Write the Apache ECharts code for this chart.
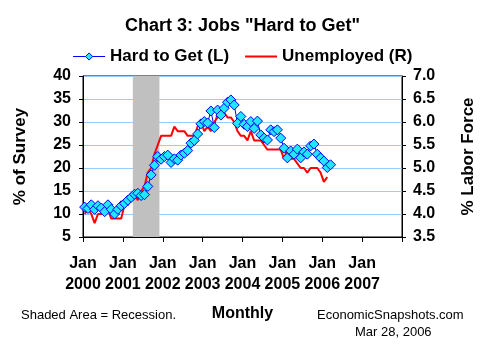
<!DOCTYPE html>
<html><head><meta charset="utf-8">
<script src="https://cdn.jsdelivr.net/npm/echarts@6/dist/echarts.min.js"></script>
<style>html,body{margin:0;padding:0;background:#fff}#c{width:485px;height:350px}</style>
</head><body><div id="c"></div>
<script>
// Monthly data, Jan 2000 .. Mar 2006 (index 0 = Jan 2000)
const hardToGet = [
 11.5, 11.2, 12.0, 11.0, 11.8, 11.3, 10.5, 12.0, 11.0, 10.0, 11.0, 11.8,
 12.3, 13.0, 13.6, 14.3, 14.5, 14.0, 14.2, 16.0, 18.5, 20.6, 22.5, 21.9,
 22.5, 22.8, 21.2, 22.0, 21.7, 22.8, 23.2, 23.8, 25.4, 26.0, 27.4, 29.6,
 30.1, 29.8, 32.4, 28.8, 32.6, 31.5, 33.0, 34.3, 34.8, 33.7, 29.7, 31.2,
 29.5, 29.0, 30.1, 28.6, 30.2, 27.2, 26.5, 26.1, 28.3, 27.9, 28.3, 26.5,
 24.3, 22.2, 23.7, 23.0, 24.1, 22.2, 23.5, 23.0, 24.8, 25.2, 23.0, 22.2,
 21.5, 20.1, 20.7
];
const unemployed = [
 4.0, 4.1, 4.0, 3.8, 4.0, 4.0, 4.0, 4.1, 3.9, 3.9, 3.9, 3.9,
 4.2, 4.2, 4.3, 4.4, 4.3, 4.5, 4.6, 4.9, 5.0, 5.3, 5.5, 5.7,
 5.7, 5.7, 5.7, 5.9, 5.8, 5.8, 5.8, 5.7, 5.7, 5.7, 5.9, 6.0,
 5.8, 5.9, 5.8, 6.0, 6.1, 6.3, 6.2, 6.1, 6.1, 6.0, 5.8, 5.7,
 5.7, 5.6, 5.8, 5.6, 5.6, 5.6, 5.5, 5.4, 5.4, 5.4, 5.4, 5.4,
 5.2, 5.4, 5.2, 5.2, 5.1, 5.0, 5.0, 4.9, 5.0, 5.0, 5.0, 4.9,
 4.7, 4.8
];
const years = ['2000','2001','2002','2003','2004','2005','2006','2007'];
const recession = [15, 23]; // month index: Apr 2001 .. Nov 2001 (end edge)
const leftTicks = {min: 5, max: 40, interval: 5};
const rightTicks = {min: 3.5, max: 7.0, interval: 0.5};

const FONT = 'Liberation Sans, Arial, sans-serif';
const chart = echarts.init(document.getElementById('c'), null, {renderer: 'canvas'});
const htgPts = hardToGet.map((v, i) => [i + 0.5, v]);
const unPts = unemployed.map((v, i) => [i + 0.5, v]);

chart.setOption({
  animation: false,
  textStyle: {fontFamily: FONT},
  title: [
    {text: 'Chart 3: Jobs "Hard to Get"', left: 'center', top: 12,
     textStyle: {fontFamily: FONT, fontSize: 18, fontWeight: 'bold', color: '#000'}},
    {text: 'Shaded Area = Recession.', left: 16, top: 304,
     textStyle: {fontFamily: FONT, fontSize: 13, fontWeight: 'normal', color: '#000'}},
    {text: 'Monthly', left: 'center', top: 301,
     textStyle: {fontFamily: FONT, fontSize: 16, fontWeight: 'bold', color: '#000'}},
    {text: 'EconomicSnapshots.com', left: 312, top: 304,
     textStyle: {fontFamily: FONT, fontSize: 13, fontWeight: 'normal', color: '#000'}},
    {text: 'Mar 28, 2006', left: 350, top: 321,
     textStyle: {fontFamily: FONT, fontSize: 13, fontWeight: 'normal', color: '#000'}}
  ],
  legend: {
    top: 43, left: 'center', itemGap: 15, itemWidth: 32, itemHeight: 9,
    textStyle: {fontFamily: FONT, fontSize: 17, fontWeight: 'bold', color: '#000'},
    data: [
      {name: 'Hard to Get (L)', lineStyle: {width: 1, color: '#0000ff'},
       itemStyle: {color: '#22e6ff', borderColor: '#0000ff', borderWidth: 1}},
      {name: 'Unemployed (R)', lineStyle: {width: 2, color: '#ff0000'}, itemStyle: {opacity: 0}}
    ]
  },
  grid: {left: 83, right: 82, top: 76, bottom: 113, show: true,
         borderColor: '#000', borderWidth: 1, backgroundColor: 'transparent'},
  xAxis: {
    type: 'value', min: 0, max: 96, interval: 12,
    axisLine: {lineStyle: {color: '#000', width: 1}},
    axisTick: {show: true, length: 5, lineStyle: {color: '#000'}},
    splitLine: {show: false},
    axisLabel: {
      margin: 16, lineHeight: 21, color: '#000',
      fontFamily: FONT, fontSize: 16, fontWeight: 'bold',
      formatter: v => { const k = Math.round(v / 12); return k < years.length ? 'Jan\n' + years[k] : ''; }
    }
  },
  yAxis: [
    {type: 'value', position: 'left', min: leftTicks.min, max: leftTicks.max, interval: leftTicks.interval,
     name: '% of Survey', nameLocation: 'middle', nameRotate: 90, nameGap: 54,
     nameTextStyle: {fontFamily: FONT, fontSize: 17, fontWeight: 'bold', color: '#000'},
     axisLine: {show: true, lineStyle: {color: '#000'}},
     axisTick: {show: true, length: 4, lineStyle: {color: '#000'}},
     splitLine: {show: true, lineStyle: {color: '#99ccff', width: 1}},
     axisLabel: {margin: 12, color: '#000', fontFamily: FONT, fontSize: 16, fontWeight: 'bold'}},
    {type: 'value', position: 'right', min: rightTicks.min, max: rightTicks.max, interval: rightTicks.interval,
     name: '% Labor Force', nameLocation: 'middle', nameRotate: 90, nameGap: 58,
     nameTextStyle: {fontFamily: FONT, fontSize: 17, fontWeight: 'bold', color: '#000'},
     axisLine: {show: true, lineStyle: {color: '#000'}},
     axisTick: {show: true, length: 4, lineStyle: {color: '#000'}},
     splitLine: {show: false},
     axisLabel: {margin: 11, color: '#000', fontFamily: FONT, fontSize: 16, fontWeight: 'bold',
       formatter: v => v.toFixed(1)}}
  ],
  series: [
    {name: 'Hard to Get (L)', type: 'line', yAxisIndex: 0, data: htgPts,
     symbol: 'diamond', symbolSize: 10, showAllSymbol: true,
     lineStyle: {color: '#0000ff', width: 1},
     itemStyle: {color: '#22e6ff', borderColor: '#0000ff', borderWidth: 1},
     markArea: {silent: true, itemStyle: {color: '#c0c0c0', opacity: 1},
       data: [[{xAxis: recession[0]}, {xAxis: recession[1]}]]}},
    {name: 'Unemployed (R)', type: 'line', yAxisIndex: 1, data: unPts,
     symbol: 'none', lineStyle: {color: '#ff0000', width: 2}, itemStyle: {color: '#ff0000'}}
  ]
});
</script></body></html>
